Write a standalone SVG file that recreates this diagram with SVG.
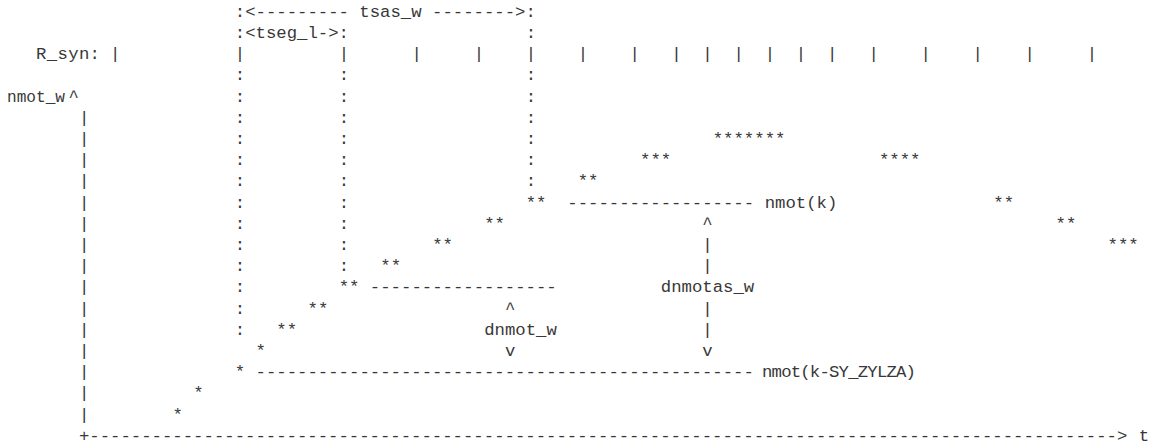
<svg xmlns="http://www.w3.org/2000/svg" width="1169" height="446" viewBox="0 0 1169 446">
<style>
text{font-family:"Liberation Mono","DejaVu Sans Mono",monospace;font-size:17.31px;fill:#383838;white-space:pre}
</style>
<rect width="1169" height="446" fill="#fff"/>
<g id="header">
<text x="234.8" y="16.8">:&lt;--------- tsas_w --------&gt;:</text>
<text x="234.8" y="38">:&lt;tseg_l-&gt;:</text>
<text x="525.72" y="38">:</text>
</g>
<g id="r_syn">
<text x="36" y="59.2" textLength="64" lengthAdjust="spacing">R_syn:</text>
<text x="110.12 234.8 338.7 411.43 473.77 525.72 577.67 629.62 671.18 702.35 733.52 764.69 795.86 827.03 868.59 920.54 972.49 1024.44 1086.78" y="59.2">|||||||||||||||||||</text>
</g>
<g id="guides">
<text x="234.8 338.7 525.72" y="80.4">:::</text>
<text x="234.8 338.7 525.72" y="101.6">:::</text>
<text x="234.8 338.7 525.72" y="122.8">:::</text>
<text x="234.8 338.7 525.72" y="144">:::</text>
<text x="234.8 338.7 525.72" y="165.2">:::</text>
<text x="234.8 338.7 525.72" y="186.4">:::</text>
<text x="234.8 338.7" y="207.6">::</text>
<text x="234.8 338.7" y="228.8">::</text>
<text x="234.8 338.7" y="250">::</text>
<text x="234.8 338.7" y="271.2">::</text>
<text x="234.8" y="292.4">:</text>
<text x="234.8" y="313.6">:</text>
<text x="234.8" y="334.8">:</text>
</g>
<g id="axis">
<text x="7" y="101.6" textLength="58" lengthAdjust="spacingAndGlyphs">nmot_w</text>
<text x="68.56" y="101.6">^</text>
<text x="78.95" y="122.8">|</text>
<text x="78.95" y="144">|</text>
<text x="78.95" y="165.2">|</text>
<text x="78.95" y="186.4">|</text>
<text x="78.95" y="207.6">|</text>
<text x="78.95" y="228.8">|</text>
<text x="78.95" y="250">|</text>
<text x="78.95" y="271.2">|</text>
<text x="78.95" y="292.4">|</text>
<text x="78.95" y="313.6">|</text>
<text x="78.95" y="334.8">|</text>
<text x="78.95" y="356">|</text>
<text x="78.95" y="377.2">|</text>
<text x="78.95" y="398.4">|</text>
<text x="78.95" y="419.6">|</text>
<text x="78.95" y="440.8">+---------------------------------------------------------------------------------------------------&gt;</text>
<text x="1138.73" y="440.8">t</text>
</g>
<g id="curve">
<text x="712.74" y="144">*******</text>
<text x="640.01" y="165.2">***</text>
<text x="878.98" y="165.2">****</text>
<text x="577.67" y="186.4">**</text>
<text x="525.72" y="207.6">**</text>
<text x="993.27" y="207.6">**</text>
<text x="484.16" y="228.8">**</text>
<text x="1055.61" y="228.8">**</text>
<text x="432.21" y="250">**</text>
<text x="1107.56" y="250">***</text>
<text x="380.26" y="271.2">**</text>
<text x="338.7" y="292.4">**</text>
<text x="307.53" y="313.6">**</text>
<text x="276.36" y="334.8">**</text>
<text x="255.58" y="356">*</text>
<text x="234.8" y="377.2">*</text>
<text x="193.24" y="398.4">*</text>
<text x="172.46" y="419.6">*</text>
</g>
<g id="connectors">
<text x="567.28" y="207.6">------------------</text>
<text x="369.87" y="292.4">------------------</text>
<text x="255.58" y="377.2">------------------------------------------------</text>
<text x="702.35" y="228.8">^</text>
<text x="702.35" y="250">|</text>
<text x="702.35" y="271.2">|</text>
<text x="702.35" y="313.6">|</text>
<text x="702.35" y="334.8">|</text>
<text x="702.35" y="356">v</text>
<text x="504.94" y="313.6">^</text>
<text x="504.94" y="356">v</text>
</g>
<g id="labels">
<text x="764.69" y="207.6">nmot(k)</text>
<text x="660.79" y="292.4">dnmotas_w</text>
<text x="484.16" y="334.8">dnmot_w</text>
<text x="762" y="377.2" textLength="154" lengthAdjust="spacing">nmot(k-SY_ZYLZA)</text>
</g>
</svg>
